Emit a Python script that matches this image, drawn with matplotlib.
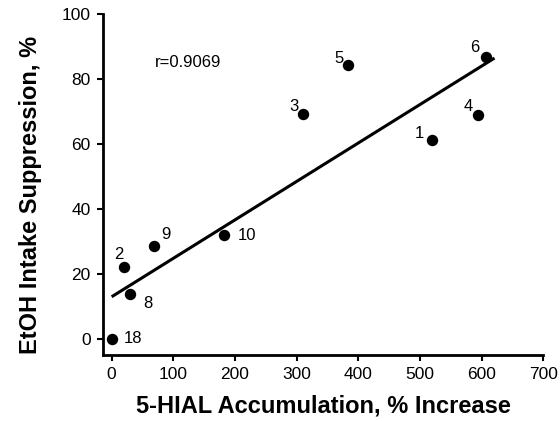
import matplotlib

matplotlib.use("Agg")
import matplotlib.pyplot as plt

# values
ids = ["1", "2", "3", "4", "5", "6", "8", "9", "10", "18"]
hial = [519, 20, 310, 594, 384, 607, 30, 68, 183, 0]
suppression = [61.2, 22.2, 69.3, 68.9, 84.2, 86.6, 13.7, 28.6, 31.9, 0]
# label offsets (points) so the numbers sit where the original puts them
offsets = {"1": (-9, 4.5), "2": (-4, 9), "3": (-6.5, 5), "4": (-7, 6), "5": (-7, 4.5),
           "6": (-8, 7), "8": (13, -7), "9": (9, 8), "10": (16, 0), "18": (15, 0)}

fit_x = [0, 621]
fit_y = [12.9, 86.4]
r_text = "r=0.9069"

plt.rcParams.update({"font.family": ["Liberation Sans", "DejaVu Sans"]})

fig = plt.figure(figsize=(5.6, 4.21), dpi=100)
ax = fig.add_axes([0.184, 0.157, 0.786, 0.81])

ax.plot(fit_x, fit_y, color="black", lw=2.2, solid_capstyle="butt")
ax.plot(hial, suppression, "o", color="black", ms=7.2, zorder=3)

for lab, x, y in zip(ids, hial, suppression):
    dx, dy = offsets[lab]
    ax.annotate(lab, (x, y), xytext=(dx, dy), textcoords="offset points",
                ha="center", va="center", fontsize=12)

ax.text(70, 85, r_text, fontsize=12, va="center")

ax.set_xlim(-14, 700)
ax.set_ylim(-5, 100)
ax.set_xticks(range(0, 701, 100))
ax.set_yticks(range(0, 101, 20))
ax.tick_params(direction="out", length=4, width=1.5, labelsize=12.5, pad=5)
for s in ("top", "right"):
    ax.spines[s].set_visible(False)
for s in ("left", "bottom"):
    ax.spines[s].set_linewidth(2)

ax.set_xlabel("5-HIAL Accumulation, % Increase", fontsize=17, fontweight="bold", labelpad=9)
ax.set_ylabel("EtOH Intake Suppression, %", fontsize=17, fontweight="bold", labelpad=14)
ax.yaxis.label.set_y(0.47)

fig.savefig("out.png", dpi=100)
